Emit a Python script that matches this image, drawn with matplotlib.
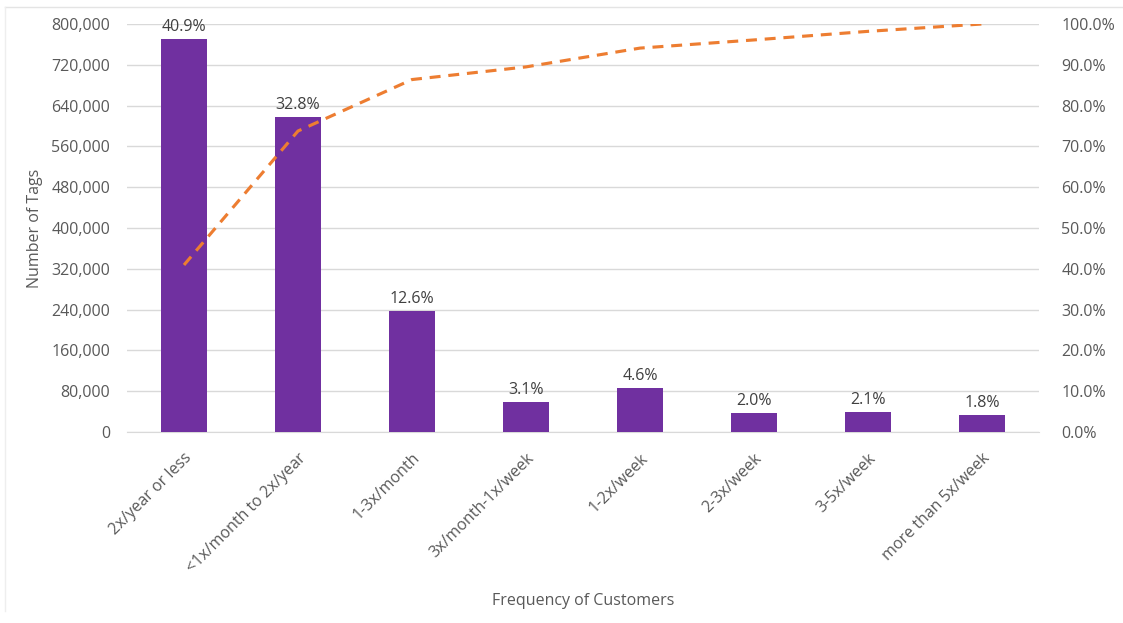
import numpy as np
import matplotlib.pyplot as plt
from matplotlib.ticker import FuncFormatter
from matplotlib.lines import Line2D
from matplotlib.transforms import ScaledTranslation

plt.rcParams['font.family'] = ['Open Sans', 'DejaVu Sans']

# visit frequency buckets and number of tags in each
categories = ['2x/year or less', '<1x/month to 2x/year', '1-3x/month', '3x/month-1x/week',
              '1-2x/week', '2-3x/week', '3-5x/week', 'more than 5x/week']
tags = [770500, 618000, 237400, 58400, 86700, 37700, 39600, 33900]

left_ticks = [0, 80000, 160000, 240000, 320000, 400000, 480000, 560000, 640000, 720000, 800000]
right_ticks = [0, 10, 20, 30, 40, 50, 60, 70, 80, 90, 100]

tags = np.array(tags)
share = tags / tags.sum() * 100
cum_share = np.cumsum(share)

bar_color = '#7030A0'
line_color = '#ED7D31'
text_color = '#595959'
grid_color = '#D9D9D9'
fs = 11.5

fig = plt.figure(figsize=(11.23, 6.23), dpi=100)
ax = fig.add_axes([127 / 1123, 1 - 432 / 623, (1039 - 127) / 1123, (432 - 24) / 623])

x = np.arange(len(categories))
ax.bar(x, tags, width=0.4, color=bar_color, zorder=3)
for xi, v, p in zip(x, tags, share):
    ax.annotate(f'{p:.1f}%', (xi, v), xytext=(0, 3), textcoords='offset points',
                ha='center', va='bottom', fontsize=fs, color='#404040', zorder=5)

ax.set_xlim(-0.5, len(categories) - 0.5)
ax.set_ylim(0, 800000)
ax.set_yticks(left_ticks)
ax.yaxis.set_major_formatter(FuncFormatter(lambda v, _: f'{int(v):,}'))
ax.set_xticks(x)
ax.set_xticklabels(categories, rotation=45, ha='right', rotation_mode='anchor')
ax.tick_params(axis='both', length=0, labelsize=fs, labelcolor=text_color)
ax.tick_params(axis='y', pad=12)
ax.tick_params(axis='x', pad=8)
# push rotated labels a little lower
shift = ScaledTranslation(0.0, -0.07, fig.dpi_scale_trans)
for lbl in ax.get_xticklabels():
    lbl.set_transform(lbl.get_transform() + shift)

ax.grid(axis='y', color=grid_color, linewidth=1, zorder=0)
for s in ax.spines.values():
    s.set_visible(False)
ax.spines['bottom'].set_visible(True)
ax.spines['bottom'].set_color(grid_color)

ax.set_ylabel('Number of Tags', fontsize=fs, color=text_color, labelpad=6)
ax.set_xlabel('Frequency of Customers', fontsize=fs, color=text_color)
ax.xaxis.set_label_coords(0.5, -0.395)

# cumulative share on the secondary axis
ax2 = ax.twinx()
ax2.plot(x, cum_share, color=line_color, linewidth=2.25, linestyle=(0, (3.5, 2.5)), zorder=4)
ax2.set_ylim(0, 100)
ax2.set_yticks(right_ticks)
ax2.yaxis.set_major_formatter(FuncFormatter(lambda v, _: f'{v:.1f}%'))
ax2.tick_params(axis='y', length=0, labelsize=fs, labelcolor=text_color, pad=16)
for s in ax2.spines.values():
    s.set_visible(False)

# faint frame edges
fig.add_artist(Line2D([5 / 1123, 1], [1 - 7 / 623, 1 - 7 / 623], color='#E4E4E4', linewidth=1))
fig.add_artist(Line2D([5 / 1123, 5 / 1123], [0.02, 1 - 7 / 623], color='#EEEEEE', linewidth=1))

fig.savefig('out.png', dpi=100, facecolor='white')
